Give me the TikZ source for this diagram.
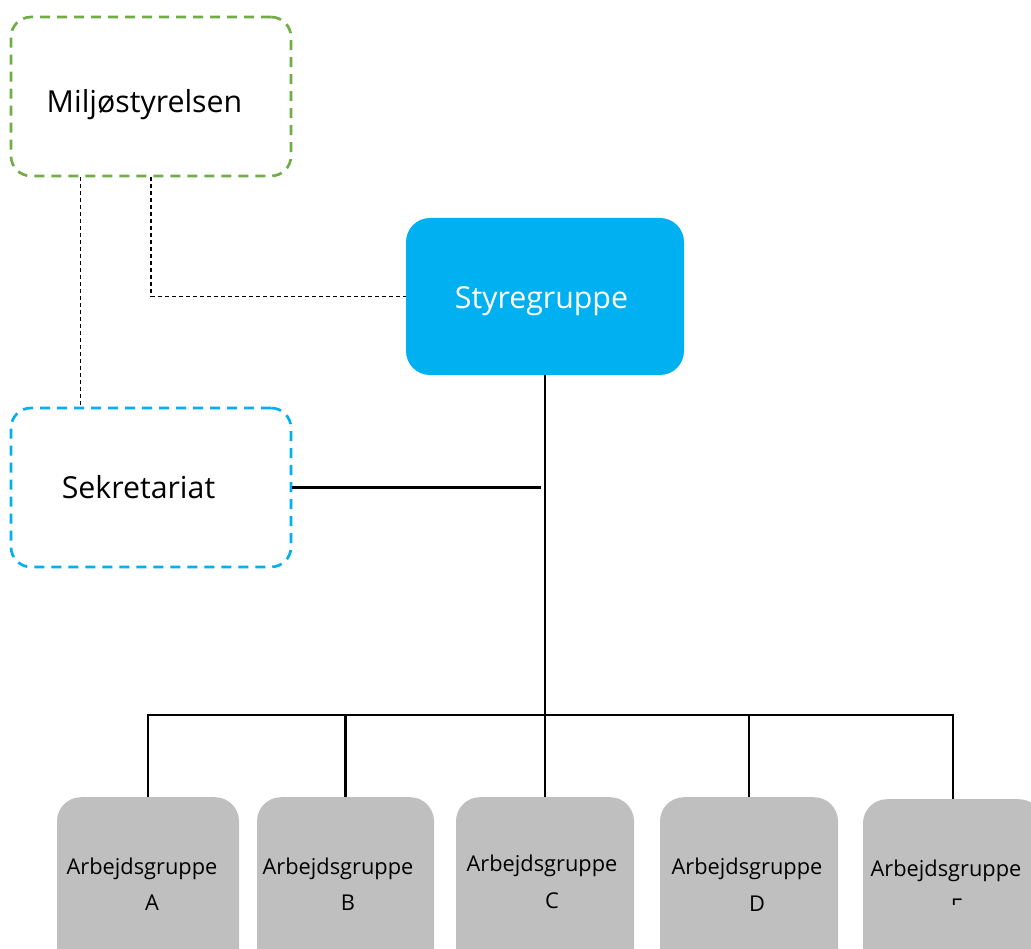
\documentclass[tikz,border=0pt]{standalone}
\usepackage{fontspec}
\setmainfont{Open Sans}
\usetikzlibrary{calc}
\definecolor{dgreen}{HTML}{70AD47}
\definecolor{lblue}{HTML}{00B0F0}
\definecolor{boxgray}{HTML}{BFBFBF}
\begin{document}
\begin{tikzpicture}[x=1pt,y=-1pt,
  dashbox/.style={draw, line width=2.7pt, dash pattern=on 10pt off 7pt, rounded corners=20pt, minimum width=280pt, minimum height=159pt, inner sep=0pt},
  bigtxt/.style={anchor=base, inner sep=0pt, font=\fontsize{30.3}{36}\selectfont},
  smalltxt/.style={anchor=base, inner sep=0pt, font=\fontsize{21.8}{26}\selectfont},
  graybox/.style={fill=boxgray, rounded corners=24pt, anchor=north, minimum height=220pt, inner sep=0pt},
  conn/.style={line width=1.2pt, dash pattern=on 4pt off 3pt},
  solid line/.style={line width=2.7pt}]
\useasboundingbox (0,0) rectangle (1031,949);
\clip (0,0) rectangle (1031,949);
% top nodes
\node[dashbox, draw=dgreen] (mil) at (151,96.5) {};
\node[bigtxt] (miltxt) at (144.5,112.5) {Miljøstyrelsen};
\node[dashbox, draw=lblue] (sek) at (151,487.5) {};
\node[bigtxt] (sektxt) at (138.5,498) {Sekretariat};
\node[fill=lblue, rounded corners=24pt, minimum width=278pt, minimum height=157pt, inner sep=0pt] (sty) at (545,296.5) {};
\node[bigtxt, text=white] (stytxt) at (541.5,309) {Styregruppe};
% bottom boxes
\node[graybox, minimum width=182pt] (ga) at (148,797) {};
\node[graybox, minimum width=177pt] (gb) at (345.5,797) {};
\node[graybox, minimum width=178pt] (gc) at (545,797) {};
\node[graybox, minimum width=178pt] (gd) at (749,797) {};
\node[graybox, minimum width=180pt] (ge) at (953,799) {};
\node[smalltxt] (ta) at (142,874) {Arbejdsgruppe};
\node[smalltxt] (tb) at (338,874) {Arbejdsgruppe};
\node[smalltxt] (tc) at (542,871) {Arbejdsgruppe};
\node[smalltxt] (td) at (747,874) {Arbejdsgruppe};
\node[smalltxt] (te) at (946,876) {Arbejdsgruppe};
\node[smalltxt] (la) at (152,910) {A};
\node[smalltxt] (lb) at (348,910) {B};
\node[smalltxt] (lc) at (552,908) {C};
\node[smalltxt] (ld) at (757,911) {D};
\begin{scope}
  \clip (930,880) rectangle (990,904.5);
  \node[smalltxt] (le) at (957,914.6) {E};
\end{scope}
% connectors
\coordinate (bus) at (545,715);
\draw[conn] ($(mil.south west)!0.25!(mil.south east)$) -- ($(sek.north west)!0.25!(sek.north east)$);
\draw[conn] (mil.south) |- (sty.west);
\draw[solid line] (sty.south) -- (bus);
\draw[solid line] (sek.east) -- ($(sek.east -| sty.south)+(-4,0)$);
\draw[solid line] ($(bus -| ga.north)+(-1.35,0)$) -- ($(bus -| ge.north)+(1.35,0)$);
\foreach \b in {ga,gb,gc,gd,ge} {
  \draw[solid line] (bus -| \b.north) -- (\b.north);
}
\end{tikzpicture}
\end{document}
